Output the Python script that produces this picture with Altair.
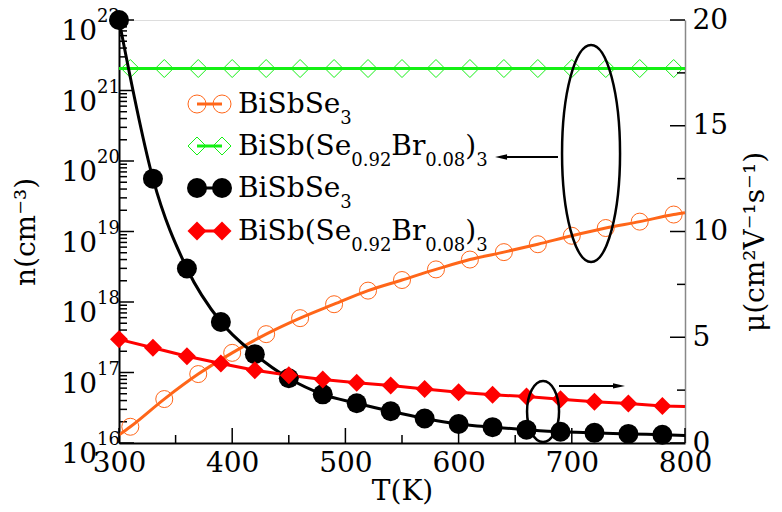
import altair as alt
import pandas as pd

FONT = "DejaVu Serif"
W, H = 566, 423

# ---------------- data ----------------
T_mu = [300, 330, 360, 390, 420, 450, 480, 510, 540, 570, 600, 630, 660, 690, 720, 750, 780]
mu_bisbse = [20.0, 12.5, 8.25, 5.72, 4.2, 3.06, 2.3, 1.88, 1.5, 1.16, 0.9, 0.75, 0.63, 0.53, 0.48, 0.43, 0.39]
mu_br = [4.9, 4.5, 4.1, 3.76, 3.44, 3.2, 3.0, 2.85, 2.72, 2.55, 2.4, 2.28, 2.2, 2.07, 1.95, 1.87, 1.75]
mu_line_end_T = [800]
mu_bisbse_end = [0.36]
mu_br_end = [1.72]

T_n = [310, 340, 370, 400, 430, 460, 490, 520, 550, 580, 610, 640, 670, 700, 730, 760, 790]
n_bisbse = [1.7e16, 4.2e16, 9.5e16, 1.9e17, 3.5e17, 5.9e17, 9.3e17, 1.45e18, 2.05e18,
            2.9e18, 4.0e18, 5.1e18, 6.6e18, 8.7e18, 1.12e19, 1.38e19, 1.74e19]
n_br = [2.05e21, 2.05e21, 2.05e21, 2.05e21, 2.05e21, 2.05e21, 2.05e21, 2.05e21, 2.05e21,
        2.05e21, 2.05e21, 2.05e21, 2.05e21, 2.05e21, 2.05e21, 2.05e21, 2.05e21]
n_line_start_T = [300]
n_line_end_T = [800]
n_bisbse_ends = [1.3e16, 1.85e19]
n_br_ends = [2.05e21, 2.05e21]

x_labels = [300, 400, 500, 600, 700, 800]
x_minor = [350, 450, 550, 650, 750]
n_decades = [1e16, 1e17, 1e18, 1e19, 1e20, 1e21, 1e22]
n_exp_labels = ["16", "17", "18", "19", "20", "21", "22"]
n_minor = [k * d for d in n_decades[:-1] for k in range(2, 10)]
mu_labels = [0, 5, 10, 15, 20]
mu_minor = [2.5, 7.5, 12.5, 17.5]

legend_names = [
    [("BiSbSe", 0), ("3", 1)],
    [("BiSb(Se", 0), ("0.92", 1), ("Br", 0), ("0.08", 1), (")", 0), ("3", 1)],
    [("BiSbSe", 0), ("3", 1)],
    [("BiSb(Se", 0), ("0.92", 1), ("Br", 0), ("0.08", 1), (")", 0), ("3", 1)],
]

ORANGE = "#FF6619"
GREEN = "#14F014"
RED = "#FF0000"
BLACK = "#000000"

# ---------------- scales / axes ----------------
x_scale = alt.Scale(domain=[300, 800], nice=False)
n_scale = alt.Scale(type="log", domain=[1e16, 1e22], nice=False)
mu_scale = alt.Scale(domain=[0, 20], nice=False)

x_axis = alt.Axis(title="T(K)", values=x_labels, format="d", labelFont=FONT, labelFontSize=28,
                  labelColor="black", labelPadding=6, ticks=False, tickSize=0,
                  domainColor="black", domainWidth=2, grid=False, labelFlush=False,
                  labelOverlap=False, titleFont=FONT, titleFontSize=28,
                  titleFontWeight="normal", titleColor="black", titleY=56,
                  titleBaseline="alphabetic")
n_axis = alt.Axis(title="n(cm⁻³)", labels=False, ticks=False, tickSize=0,
                  domainColor="black", domainWidth=2, grid=False, titleFont=FONT,
                  titleFontSize=28, titleFontWeight="normal", titleColor="black",
                  titleAngle=270, titleX=-93, titleY=H / 2, titleAlign="center",
                  titleBaseline="middle")
mu_axis = alt.Axis(title="μ(cm²V⁻¹s⁻¹)", orient="right", values=mu_labels, labelFont=FONT,
                   labelFontSize=28, labelColor="black", labelPadding=7, ticks=False,
                   tickSize=0, domainColor="#888888", domainWidth=1.5, grid=False,
                   labelFlush=False, labelOverlap=False, titleFont=FONT, titleFontSize=28,
                   titleFontWeight="normal", titleColor="black", titleAngle=270,
                   titleX=70, titleY=H / 2 + 10, titleAlign="center", titleBaseline="middle")


def X(field="T"):
    return alt.X(f"{field}:Q", scale=x_scale, axis=x_axis)


def YN(field):
    return alt.Y(f"{field}:Q", scale=n_scale, axis=n_axis)


def YM(field):
    return alt.Y(f"{field}:Q", scale=mu_scale, axis=mu_axis)


one = pd.DataFrame({"a": [0]})

# ---------------- n group (left axis) ----------------
df_n_pts = pd.DataFrame({"T": T_n, "n1": n_bisbse, "n2": n_br})
df_n_line = pd.DataFrame({"T": n_line_start_T + T_n + n_line_end_T,
                          "n1": n_bisbse_ends[:1] + n_bisbse + n_bisbse_ends[1:],
                          "n2": n_br_ends[:1] + n_br + n_br_ends[1:]})

orange_line = alt.Chart(df_n_line).mark_line(color=ORANGE, strokeWidth=3, interpolate="monotone").encode(x=X(), y=YN("n1"))
orange_pts = alt.Chart(df_n_pts).mark_point(shape="circle", size=289, filled=False, stroke=ORANGE, strokeWidth=1, opacity=1).encode(x=X(), y=YN("n1"))
green_line = alt.Chart(df_n_line).mark_line(color=GREEN, strokeWidth=3).encode(x=X(), y=YN("n2"))
green_pts = alt.Chart(df_n_pts).mark_point(shape="diamond", size=324, filled=False, stroke=GREEN, strokeWidth=1, opacity=1).encode(x=X(), y=YN("n2"))

df_dec = pd.DataFrame({"v": n_decades, "base": ["10"] * len(n_decades), "exp": n_exp_labels})
n_major = alt.Chart(df_dec).mark_rule(color="black", strokeWidth=1.5).encode(y=YN("v"), x=alt.value(0), x2=alt.value(15))
n_minor_r = alt.Chart(pd.DataFrame({"v": n_minor})).mark_rule(color="black", strokeWidth=1.5).encode(y=YN("v"), x=alt.value(0), x2=alt.value(8))
n_lab_base = alt.Chart(df_dec).mark_text(align="right", baseline="alphabetic", font=FONT, fontSize=28, dy=20, color="black").encode(y=YN("v"), x=alt.value(-22), text="base:N")
n_lab_exp = alt.Chart(df_dec).mark_text(align="left", baseline="alphabetic", font=FONT, fontSize=18, dy=2, color="black").encode(y=YN("v"), x=alt.value(-22), text="exp:N")

n_group = alt.layer(n_major, n_minor_r, n_lab_base, n_lab_exp, orange_line, green_line, orange_pts, green_pts)

# ---------------- mu group (right axis) ----------------
df_mu_pts = pd.DataFrame({"T": T_mu, "m1": mu_bisbse, "m2": mu_br})
df_mu_line = pd.DataFrame({"T": T_mu + mu_line_end_T, "m1": mu_bisbse + mu_bisbse_end, "m2": mu_br + mu_br_end})

black_line = alt.Chart(df_mu_line).mark_line(color=BLACK, strokeWidth=3, interpolate="monotone").encode(x=X(), y=YM("m1"))
black_pts = alt.Chart(df_mu_pts).mark_point(shape="circle", size=400, filled=True, color=BLACK, opacity=1).encode(x=X(), y=YM("m1"))
red_line = alt.Chart(df_mu_line).mark_line(color=RED, strokeWidth=3).encode(x=X(), y=YM("m2"))
red_pts = alt.Chart(df_mu_pts).mark_point(shape="diamond", size=324, filled=True, color=RED, opacity=1).encode(x=X(), y=YM("m2"))

mu_major = alt.Chart(pd.DataFrame({"v": mu_labels})).mark_rule(color="black", strokeWidth=1.5).encode(y=YM("v"), x=alt.value(W), x2=alt.value(W - 15))
mu_minor_r = alt.Chart(pd.DataFrame({"v": mu_minor})).mark_rule(color="black", strokeWidth=1.5).encode(y=YM("v"), x=alt.value(W), x2=alt.value(W - 8))
x_major = alt.Chart(pd.DataFrame({"T": x_labels})).mark_rule(color="black", strokeWidth=1.5).encode(x=X(), y=alt.value(H), y2=alt.value(H - 15))
x_minor_r = alt.Chart(pd.DataFrame({"T": x_minor})).mark_rule(color="black", strokeWidth=1.5).encode(x=X(), y=alt.value(H), y2=alt.value(H - 8))


def ellipse_path(ratio):
    k = 0.5523
    a = ratio
    return (f"M 0 -1 C {k*a:.4f} -1 {a:.4f} {-k:.4f} {a:.4f} 0 "
            f"C {a:.4f} {k:.4f} {k*a:.4f} 1 0 1 "
            f"C {-k*a:.4f} 1 {-a:.4f} {k:.4f} {-a:.4f} 0 "
            f"C {-a:.4f} {-k:.4f} {-k*a:.4f} -1 0 -1 Z")


big_ell = alt.Chart(pd.DataFrame({"T": [717], "m": [13.69]})).mark_point(
    shape=ellipse_path(29 / 108.5), size=217 ** 2, filled=False, stroke="black", strokeWidth=2.5, opacity=1
).encode(x=X(), y=YM("m"))
small_ell = alt.Chart(pd.DataFrame({"T": [674.6], "m": [1.49]})).mark_point(
    shape=ellipse_path(16 / 30.5), size=61 ** 2, filled=False, stroke="black", strokeWidth=2.5, opacity=1
).encode(x=X(), y=YM("m"))

arrow_lines = alt.Chart(pd.DataFrame({"T": [687.8, 688.7], "T2": [640.0, 740.0], "m": [13.52, 2.7]})).mark_rule(
    color="black", strokeWidth=2).encode(x=X(), x2="T2:Q", y=YM("m"))
head_left = alt.Chart(pd.DataFrame({"T": [637.5], "m": [13.52]})).mark_point(
    shape="M -1 0 L 1 -0.45 L 1 0.45 Z", size=144, filled=True, color="black", opacity=1).encode(x=X(), y=YM("m"))
head_right = alt.Chart(pd.DataFrame({"T": [741.7], "m": [2.7]})).mark_point(
    shape="M 1 0 L -1 -0.45 L -1 0.45 Z", size=144, filled=True, color="black", opacity=1).encode(x=X(), y=YM("m"))

# ---------------- legend (drawn by hand, for subscripts) ----------------
WID = {"B": 733, "i": 320, "S": 685, "b": 640, "e": 592, "(": 390, ")": 390, "r": 478, ".": 318}


def tw(s, size):
    return sum(WID.get(c, 636) for c in s) * size / 1000.0


legend_rows = [
    (84, ORANGE, "circle", False, 324, legend_names[0]),
    (126, GREEN, "diamond", False, 324, legend_names[1]),
    (168, BLACK, "circle", True, 400, legend_names[2]),
    (211, RED, "diamond", True, 360, legend_names[3]),
]
legend_layers = []
MAIN, SUB = 28, 18
for ry, col, shp, fil, sz, pieces in legend_rows:
    legend_layers.append(alt.Chart(one).mark_rule(color=col, strokeWidth=3).encode(
        x=alt.value(78), x2=alt.value(103), y=alt.value(ry)))
    for sx in (78, 103):
        if fil:
            m = alt.Chart(one).mark_point(shape=shp, size=sz, filled=True, color=col, opacity=1)
        else:
            m = alt.Chart(one).mark_point(shape=shp, size=sz, filled=False, stroke=col, strokeWidth=1, opacity=1)
        legend_layers.append(m.encode(x=alt.value(sx), y=alt.value(ry)))
    xx = 119.0
    for txt, sub in pieces:
        size = SUB if sub else MAIN
        yy = ry + (20 if sub else 9)
        legend_layers.append(alt.Chart(pd.DataFrame({"t": [txt]})).mark_text(
            align="left", baseline="alphabetic", font=FONT, fontSize=size, color="black").encode(
            x=alt.value(xx), y=alt.value(yy), text="t:N"))
        xx += tw(txt, size)

mu_group = alt.layer(mu_major, mu_minor_r, x_major, x_minor_r, black_line, red_line, black_pts, red_pts,
                     big_ell, small_ell, arrow_lines, head_left, head_right, *legend_layers)

chart = alt.layer(n_group, mu_group).resolve_scale(y="independent").properties(
    width=W, height=H,
    autosize=alt.AutoSizeParams(type="none"),
    padding={"left": 111, "top": 12, "right": 89, "bottom": 66},
).configure_view(stroke="#888888", strokeWidth=1.5).configure(background="white")

chart.save("out.html", embed_options={"renderer": "svg", "actions": False})
